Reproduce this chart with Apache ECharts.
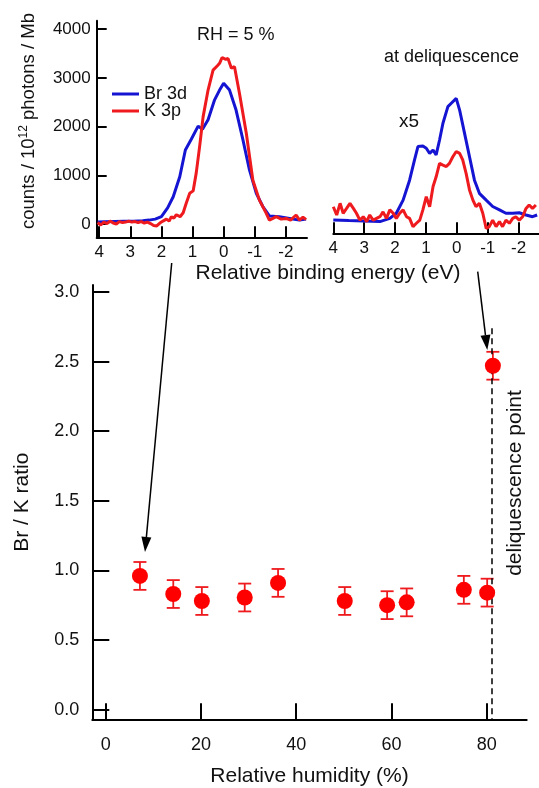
<!DOCTYPE html>
<html>
<head>
<meta charset="utf-8">
<script src="https://cdn.jsdelivr.net/npm/echarts@6.0.0/dist/echarts.min.js"></script>
<style>
  html, body { margin: 0; padding: 0; background: #fff; }
  #chart { width: 539px; height: 788px; }
</style>
</head>
<body>
<div id="chart"></div>
<script>
// Br/K ratio vs relative humidity
var rh    = [7.2, 14.2, 20.2, 29.2, 36.2, 50.2, 59.1, 63.2, 75.2, 80.1, 81.3];
var ratio = [0.96, 0.83, 0.78, 0.805, 0.91, 0.78, 0.75, 0.77, 0.86, 0.84, 2.47];
var ratioErr = [0.1, 0.1, 0.1, 0.1, 0.1, 0.1, 0.1, 0.1, 0.1, 0.1, 0.1];
var deliqRH = 81;

// inset 1 : RH = 5 %
var e1Br = [4.05, 3.8, 3.5, 3.2, 2.9, 2.6, 2.4, 2.2, 2.0, 1.8, 1.62, 1.41, 1.23, 1.04, 0.82, 0.68, 0.5, 0.29, 0.13, 0, -0.19, -0.4, -0.62, -0.83, -1.05, -1.26, -1.47, -1.79, -2.12, -2.44, -2.65];
var br1  = [40, 45, 50, 55, 55, 65, 80, 100, 150, 330, 560, 970, 1520, 1740, 2010, 1945, 2140, 2550, 2750, 2890, 2750, 2340, 1730, 1110, 630, 360, 165, 150, 115, 80, 100];
var e1K  = [4.05, 3.95, 3.85, 3.75, 3.65, 3.55, 3.45, 3.35, 3.25, 3.15, 3.05, 2.95, 2.85, 2.75, 2.65, 2.55, 2.45, 2.35, 2.25, 2.15,
            2.05, 1.95, 1.84, 1.75, 1.68, 1.6, 1.52, 1.4, 1.3, 1.2, 1.09, 0.98, 0.88, 0.77, 0.66, 0.5, 0.34, 0.2, 0.13, 0.05,
            0, -0.07, -0.14, -0.25, -0.35, -0.51, -0.73, -0.94, -1.15, -1.37, -1.47, -1.6, -1.69, -1.85, -2.01, -2.15, -2.33, -2.44, -2.55, -2.65];
var k1   = [30, -20, 40, 10, 60, 20, 0, 50, 30, 40, 60, 40, 50, 30, 50, 20, 40, 10, -30, -40,
            20, 60, 100, 60, 150, 120, 190, 150, 230, 430, 630, 680, 1050, 1600, 2200, 2750, 3160, 3250, 3300, 3420,
            3440, 3380, 3400, 3200, 3230, 2680, 1860, 900, 490, 220, 80, 120, 150, 100, 115, 80, 185, 80, 140, 90];

// inset 2 : at deliquescence (x5)
var e2Br = [4.0, 3.5, 3.0, 2.49, 2.17, 1.96, 1.74, 1.53, 1.37, 1.26, 1.10, 0.99, 0.88, 0.77, 0.67, 0.56, 0.45, 0.40, 0.29, 0.18,
            0.02, -0.09, -0.25, -0.41, -0.57, -0.73, -0.95, -1.16, -1.38, -1.59, -1.81, -2.02, -2.24, -2.45, -2.6];
var br2  = [82, 70, 60, 50, 116, 220, 490, 900, 1315, 1590, 1600, 1555, 1450, 1520, 1420, 1725, 2070, 2100, 2410, 2480,
            2580, 2340, 1860, 1380, 900, 630, 490, 360, 290, 220, 220, 230, 185, 150, 185];
var e2K  = [4.0, 3.89, 3.78, 3.68, 3.57, 3.46, 3.35, 3.25, 3.14, 3.03, 2.92, 2.82, 2.71, 2.60, 2.49, 2.39, 2.28, 2.17, 2.06, 1.96,
            1.85, 1.74, 1.63, 1.53, 1.42, 1.31, 1.20, 1.10, 0.99, 0.88, 0.77, 0.67, 0.56, 0.45, 0.34, 0.24, 0.13, 0.02, -0.09, -0.19,
            -0.30, -0.41, -0.52, -0.62, -0.73, -0.84, -0.95, -1.05, -1.16, -1.27, -1.38, -1.48, -1.59, -1.70, -1.81, -1.91, -2.02, -2.13, -2.24, -2.34,
            -2.45, -2.56];
var k2   = [355, 185, 425, 220, 320, 425, 320, 220, 80, 150, 50, 185, 80, 115, 150, 250, 115, 290, 220, 115,
            220, 290, 150, 115, -55, 15, 80, 290, 560, 355, 770, 970, 1245, 1210, 1180, 1245, 1380, 1490, 1450, 1315,
            1040, 700, 490, 355, 425, 220, -90, -55, 80, -55, 50, -55, 80, 15, 115, 150, 80, 150, 320, 390,
            320, 390];

var energyTicks = [4, 3, 2, 1, 0, -1, -2];
var countTicks = [0, 1000, 2000, 3000, 4000];
var rhTicks = [0, 20, 40, 60, 80];
var ratioTicks = [0, 0.5, 1.0, 1.5, 2.0, 2.5, 3.0];

var FONT = 'Liberation Sans, Arial, Helvetica, sans-serif';
var BLUE = '#1414d2';
var RED = '#ee1a1e';

function zip(a, b) {
  return a.map(function (v, i) { return [v, b[i]]; });
}

function arrow(x1, y1, x2, y2) {
  var ang = Math.atan2(y2 - y1, x2 - x1);
  var len = 15, half = 5;
  var bx = x2 - len * Math.cos(ang), by = y2 - len * Math.sin(ang);
  var px = -Math.sin(ang) * half, py = Math.cos(ang) * half;
  return [
    { type: 'line', shape: { x1: x1, y1: y1, x2: bx, y2: by }, style: { stroke: '#000', lineWidth: 1.5 } },
    { type: 'polygon', shape: { points: [[x2, y2], [bx + px, by + py], [bx - px, by - py]] }, style: { fill: '#000' } }
  ];
}

var myChart = echarts.init(document.getElementById('chart'));

var axisLine = { show: true, onZero: false, lineStyle: { color: '#000', width: 2 } };

var option = {
  animation: false,
  textStyle: { fontFamily: FONT },
  legend: {
    data: ['Br 3d', 'K 3p'],
    orient: 'vertical',
    left: 107,
    top: 80,
    itemWidth: 27,
    itemHeight: 3,
    itemGap: -1,
    icon: 'rect',
    textStyle: { fontSize: 18, color: '#111', fontFamily: FONT }
  },
  grid: [
    { left: 96.7, top: 20.7, width: 210.3, height: 216.6, outerBoundsMode: 'none', containLabel: false },
    { left: 333.3, top: 20.7, right: 0, height: 212.6, outerBoundsMode: 'none', containLabel: false },
    { left: 92.3, top: 285, right: 12.3, bottom: 68.7, outerBoundsMode: 'none', containLabel: false }
  ],
  xAxis: [
    {
      gridIndex: 0, type: 'value', inverse: true, min: -2.68, max: 4.08,
      axisLine: axisLine,
      axisTick: { inside: true, length: 11, customValues: energyTicks, lineStyle: { color: '#000', width: 2 } },
      axisLabel: { customValues: energyTicks, fontSize: 17, color: '#111', margin: 7, fontFamily: FONT },
      splitLine: { show: false }
    },
    {
      gridIndex: 1, type: 'value', inverse: true, min: -2.66, max: 4.0,
      axisLine: axisLine,
      axisTick: { inside: true, length: 11, customValues: energyTicks, lineStyle: { color: '#000', width: 2 } },
      axisLabel: { customValues: energyTicks, fontSize: 17, color: '#111', margin: 7, fontFamily: FONT },
      splitLine: { show: false }
    },
    {
      gridIndex: 2, type: 'value', min: -2.8, max: 88.4,
      axisLine: axisLine,
      axisTick: { inside: true, length: 16, customValues: rhTicks, lineStyle: { color: '#000', width: 2 } },
      axisLabel: { customValues: rhTicks, fontSize: 18, color: '#111', margin: 17, fontFamily: FONT },
      splitLine: { show: false },
      name: 'Relative humidity (%)',
      nameLocation: 'middle',
      nameGap: 46,
      nameTextStyle: { fontSize: 21, color: '#111', fontFamily: FONT }
    }
  ],
  yAxis: [
    {
      gridIndex: 0, type: 'value', min: -273, max: 4175,
      axisLine: axisLine,
      axisTick: { inside: true, length: 10, customValues: countTicks, lineStyle: { color: '#000', width: 2 } },
      axisLabel: {
        customValues: countTicks, fontSize: 17, color: '#111', margin: 6, fontFamily: FONT,
        formatter: function (v) { return String(v); }
      },
      splitLine: { show: false },
      name: 'counts / 10{sup|12} photons / Mb',
      nameLocation: 'middle',
      nameRotate: 90,
      nameGap: 57,
      nameTextStyle: {
        fontSize: 18.5, color: '#111', fontFamily: FONT, lineHeight: 22, padding: [0, 0, 0, 16],
        rich: { sup: { fontSize: 12, verticalAlign: 'top', lineHeight: 22, fontFamily: FONT, color: '#111' } }
      }
    },
    {
      gridIndex: 1, type: 'value', min: -191, max: 4175, show: false,
      splitLine: { show: false }
    },
    {
      gridIndex: 2, type: 'value', min: -0.07, max: 3.05,
      axisLine: axisLine,
      axisTick: { inside: true, length: 17, customValues: ratioTicks, lineStyle: { color: '#000', width: 2 } },
      axisLabel: {
        customValues: ratioTicks, fontSize: 18, color: '#111', margin: 13, fontFamily: FONT,
        formatter: function (v) { return v.toFixed(1); }
      },
      splitLine: { show: false },
      name: 'Br / K ratio',
      nameLocation: 'middle',
      nameRotate: 90,
      nameGap: 60,
      nameTextStyle: { fontSize: 21, color: '#111', fontFamily: FONT }
    }
  ],
  series: [
    {
      name: 'Br 3d', type: 'line', xAxisIndex: 0, yAxisIndex: 0, data: zip(e1Br, br1),
      showSymbol: false, lineStyle: { color: BLUE, width: 3 }, itemStyle: { color: BLUE }, z: 2
    },
    {
      name: 'K 3p', type: 'line', xAxisIndex: 0, yAxisIndex: 0, data: zip(e1K, k1),
      showSymbol: false, lineStyle: { color: RED, width: 3 }, itemStyle: { color: RED }, z: 3
    },
    {
      name: 'Br 3d', type: 'line', xAxisIndex: 1, yAxisIndex: 1, data: zip(e2Br, br2),
      showSymbol: false, lineStyle: { color: BLUE, width: 3 }, itemStyle: { color: BLUE }, z: 2
    },
    {
      name: 'K 3p', type: 'line', xAxisIndex: 1, yAxisIndex: 1, data: zip(e2K, k2),
      showSymbol: false, lineStyle: { color: RED, width: 3 }, itemStyle: { color: RED }, z: 3
    },
    {
      name: 'error', type: 'custom', xAxisIndex: 2, yAxisIndex: 2,
      data: rh.map(function (x, i) { return [x, ratio[i] - ratioErr[i], ratio[i] + ratioErr[i]]; }),
      renderItem: function (params, api) {
        var lo = api.coord([api.value(0), api.value(1)]);
        var hi = api.coord([api.value(0), api.value(2)]);
        var w = 6.5;
        var st = { stroke: RED, lineWidth: 1.8 };
        return {
          type: 'group',
          children: [
            { type: 'line', shape: { x1: lo[0], y1: lo[1], x2: hi[0], y2: hi[1] }, style: st },
            { type: 'line', shape: { x1: lo[0] - w, y1: lo[1], x2: lo[0] + w, y2: lo[1] }, style: st },
            { type: 'line', shape: { x1: hi[0] - w, y1: hi[1], x2: hi[0] + w, y2: hi[1] }, style: st }
          ]
        };
      },
      z: 4
    },
    {
      name: 'ratio', type: 'scatter', xAxisIndex: 2, yAxisIndex: 2, data: zip(rh, ratio),
      symbol: 'circle', symbolSize: 16, itemStyle: { color: '#ff0000', opacity: 1 }, z: 5,
      markLine: {
        silent: true, symbol: 'none', label: { show: false },
        lineStyle: { color: '#000', type: [6, 4], width: 1.5 },
        data: [[{ coord: [deliqRH, 2.74] }, { coord: [deliqRH, -0.07] }]]
      }
    }
  ],
  graphic: [
    { type: 'text', left: 197, top: 26, style: { text: 'RH = 5 %', fontSize: 18, fill: '#111', fontFamily: FONT } },
    { type: 'text', left: 384, top: 48, style: { text: 'at deliquescence', fontSize: 18, fill: '#111', fontFamily: FONT } },
    { type: 'text', left: 399, top: 112, style: { text: 'x5', fontSize: 19, fill: '#111', fontFamily: FONT } },
    { type: 'text', x: 328, y: 273, style: { text: 'Relative binding energy (eV)', fontSize: 21, fill: '#111', fontFamily: FONT, align: 'center', verticalAlign: 'middle' } },
    { type: 'text', x: 515, y: 483, rotation: Math.PI / 2, style: { text: 'deliquescence point', fontSize: 21, fill: '#111', fontFamily: FONT, align: 'center', verticalAlign: 'middle' } }
  ].concat(arrow(171.7, 263, 145, 552)).concat(arrow(477.7, 271.7, 487.3, 350))
};

myChart.setOption(option);
</script>
</body>
</html>
